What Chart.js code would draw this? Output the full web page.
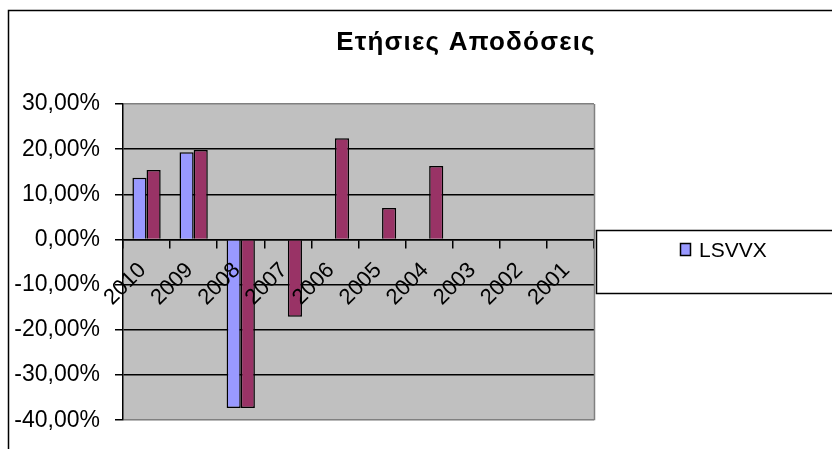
<!DOCTYPE html>
<html lang="el">
<head>
<meta charset="utf-8">
<title>Ετήσιες Αποδόσεις</title>
<script src="https://cdn.jsdelivr.net/npm/chart.js@4/dist/chart.umd.min.js"></script>
<style>
    html, body { margin: 0; padding: 0; background: #fff; overflow: hidden; }
    canvas { display: block; }
</style>
</head>
<body>
<canvas id="returnsChart" width="832" height="449"></canvas>
<script>
// values, in percent
const chartTitle = "Ετήσιες Αποδόσεις";
const years = ["2010", "2009", "2008", "2007", "2006", "2005", "2004", "2003", "2002", "2001"];
const lsvvxLabel = "LSVVX";
const lsvvxReturns = [13.7, 19.3, -37.3, null, null, null, null, null, null, null];
const secondLabel = "";
const secondReturns = [15.4, 19.8, -37.3, -17.1, 22.4, 7.0, 16.3, null, null, null];
const yMin = -40;
const yMax = 30;
const yStep = 10;

(() => {
    const FONT = "'Liberation Sans', Arial, sans-serif";

    function percentLabel(v) {
        return v.toFixed(2).replace(".", ",") + "%";
    }

    // white page, grey plot area, the chart frame cut by the window, title and legend box
    const excelLook = {
        id: "excelLook",
        beforeDraw(chart) {
            const { ctx, chartArea: a } = chart;
            ctx.save();
            ctx.fillStyle = "#fff";
            ctx.fillRect(0, 0, chart.width, chart.height);
            ctx.fillStyle = "#c0c0c0";
            ctx.fillRect(a.left, a.top, a.right - a.left, a.bottom - a.top);

            ctx.strokeStyle = "#000";
            ctx.lineWidth = 1.5;
            ctx.beginPath();
            ctx.moveTo(8.5, chart.height);
            ctx.lineTo(8.5, 10.5);
            ctx.lineTo(chart.width, 10.5);
            ctx.stroke();
            ctx.restore();
        },
        afterDraw(chart) {
            const { ctx, chartArea: a } = chart;
            ctx.save();

            ctx.strokeStyle = "#808080";
            ctx.lineWidth = 1.5;
            ctx.beginPath();
            ctx.moveTo(a.right + 0.5, a.top);
            ctx.lineTo(a.right + 0.5, a.bottom);
            ctx.stroke();

            ctx.fillStyle = "#000";
            ctx.font = "bold 26px " + FONT;
            ctx.letterSpacing = "1.2px";
            ctx.textAlign = "center";
            ctx.textBaseline = "alphabetic";
            ctx.fillText(chart.options.plugins.excelLook.title, 466, 50);
            ctx.letterSpacing = "0px";

            // legend box, runs off the right side like the original
            const lx = a.right + 2;
            const ly = 230;
            ctx.fillStyle = "#fff";
            ctx.fillRect(lx, ly, chart.width - lx + 10, 63);
            ctx.strokeStyle = "#000";
            ctx.lineWidth = 1.5;
            ctx.strokeRect(lx + 0.5, ly + 0.5, chart.width - lx + 10, 63);

            chart.data.datasets.filter(ds => ds.label).forEach((ds, i) => {
                const my = ly + 13 + i * 24;
                ctx.fillStyle = ds.backgroundColor;
                ctx.fillRect(lx + 84.5, my + 0.5, 10, 12);
                ctx.strokeStyle = "#000";
                ctx.lineWidth = 1.5;
                ctx.strokeRect(lx + 84.5, my + 0.5, 10, 12);

                ctx.fillStyle = "#000";
                ctx.font = "21px " + FONT;
                ctx.textAlign = "left";
                ctx.textBaseline = "middle";
                ctx.fillText(ds.label, lx + 103, my + 8);
            });
            ctx.restore();
        }
    };

    new Chart(document.getElementById("returnsChart"), {
        type: "bar",
        data: {
            labels: years,
            datasets: [
                {
                    label: lsvvxLabel,
                    data: lsvvxReturns,
                    backgroundColor: "#9999ff",
                    borderColor: "#000",
                    borderWidth: 1.5
                },
                {
                    label: secondLabel,
                    data: secondReturns,
                    backgroundColor: "#993366",
                    borderColor: "#000",
                    borderWidth: 1.5
                }
            ]
        },
        options: {
            responsive: false,
            animation: false,
            layout: {
                padding: { top: 104, bottom: 27, left: 0, right: 238 }
            },
            datasets: {
                bar: { categoryPercentage: 0.6, barPercentage: 1 }
            },
            plugins: {
                legend: { display: false },
                title: { display: false },
                tooltip: { enabled: false },
                excelLook: { title: chartTitle }
            },
            scales: {
                x: {
                    type: "category",
                    position: { y: 0 },
                    border: { color: "#000", width: 1.5, z: 1 },
                    grid: {
                        offset: true,
                        drawOnChartArea: false,
                        tickLength: 8,
                        color: "#000",
                        lineWidth: 1.5
                    },
                    ticks: {
                        z: 1,
                        color: "#000",
                        font: { family: FONT, size: 22 },
                        minRotation: 45,
                        maxRotation: 45,
                        padding: 10,
                        labelOffset: -4
                    }
                },
                y: {
                    min: yMin,
                    max: yMax,
                    afterFit: scale => { scale.width = 123; },
                    border: { color: "#000", width: 1.5 },
                    grid: {
                        color: c => (c.tick.value === yMin || c.tick.value === yMax) ? "#808080" : "#000",
                        tickColor: "#000",
                        tickLength: 8,
                        lineWidth: 1.5
                    },
                    ticks: {
                        stepSize: yStep,
                        color: "#000",
                        font: { family: FONT, size: 23 },
                        padding: 15,
                        callback: v => percentLabel(v)
                    }
                }
            }
        },
        plugins: [excelLook]
    });
})();
</script>
</body>
</html>
